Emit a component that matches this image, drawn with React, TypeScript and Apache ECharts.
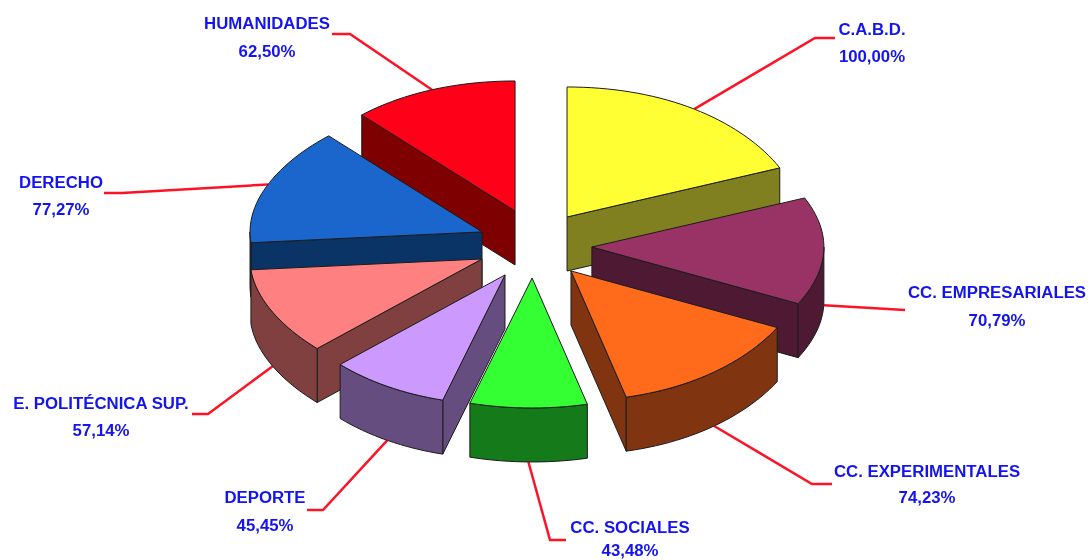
import React, { useEffect, useRef } from "react";
import * as echarts from "echarts";

const categories = ["C.A.B.D.", "CC. EMPRESARIALES", "CC. EXPERIMENTALES", "CC. SOCIALES", "DEPORTE", "E. POLITÉCNICA SUP.", "DERECHO", "HUMANIDADES"];
const values = [100.0, 70.79, 74.23, 43.48, 45.45, 57.14, 77.27, 62.5];

const topColors = ["#FFFF33", "#993366", "#FF6B1A", "#33FF33", "#CC99FF", "#FF8080", "#1A66CC", "#FF0019"];
const sideColors = ["#808020", "#4D1933", "#803510", "#147A1A", "#664D80", "#804040", "#0A3366", "#7F0000"];
const drawOrder = [7, 0, 6, 1, 5, 2, 4, 3];

// Pie projection (an ellipse extruded downwards) and per-slice explosion.
const CX = 533, CY = 246, RX = 232, RY = 130, DEPTH = 54, FLATTEN = 0.02;
const explodeX = [0.263, 0.254, 0.26, 0.25, 0.234, 0.241, 0.236, 0.214];
const explodeY = [0.269, 0.25, 0.247, 0.246, 0.26, 0.244, 0.297, 0.289];

// Leader-line elbows and label placement.
const elbows = [[[815, 38], [835, 38]], [[905, 310]], [[812, 484], [832, 484]], [[550, 540], [566, 540]], [[323, 510], [307, 510]], [[208, 414], [192, 414]], [[122, 193], [104, 193]], [[350, 34], [332, 34]]];
const labelPos = [[872, 29, 56], [997, 292, 320], [927, 471, 497], [630, 527, 550], [265, 497, 525], [101, 403, 430], [61, 182, 209], [267, 23, 51]];

const total = values.reduce((a, b) => a + b, 0);
const D2R = Math.PI / 180;
const spans = values.map((_, i) => {
  const before = values.slice(0, i).reduce((a, b) => a + b, 0);
  return [(before / total) * 360, ((before + values[i]) / total) * 360];
});
const apex = (i: number) => {
  const mid = ((spans[i][0] + spans[i][1]) / 2) * D2R;
  return [CX + explodeX[i] * RX * Math.sin(mid), CY - explodeY[i] * RY * Math.cos(mid)];
};
const rim = (i: number, deg: number, drop = 0) => {
  const [ax, ay] = apex(i);
  const t = deg * D2R;
  const flat = 1 - FLATTEN * Math.sin(2 * t) ** 2;
  return [ax + RX * Math.sin(t) * flat, ay - RY * Math.cos(t) + drop];
};
const arcPoints = (i: number, a: number, b: number, drop = 0) => {
  const n = Math.max(1, Math.ceil(Math.abs(b - a) / 2));
  const out: number[][] = [];
  for (let k = 0; k <= n; k++) out.push(rim(i, a + ((b - a) * k) / n, drop));
  return out;
};
const EDGE = "#1c1c1c";
const poly = (points: number[][], fill: string) => ({
  type: "polygon",
  shape: { points },
  style: { fill, stroke: EDGE, lineWidth: 1, lineJoin: "round" },
});

const renderSlice = (params: any) => {
  const i = drawOrder[params.dataIndex];
  const [a, b] = spans[i];
  const [ax, ay] = apex(i);
  const children: any[] = [];
  const radial = (deg: number) => {
    const p = rim(i, deg);
    children.push(poly([[ax, ay], p, [p[0], p[1] + DEPTH], [ax, ay + DEPTH]], sideColors[i]));
  };
  if (Math.sin(a * D2R) < -1e-6) radial(a);
  if (Math.sin(b * D2R) > 1e-6) radial(b);
  const fa = Math.max(a, 90), fb = Math.min(b, 270);
  if (fb > fa) {
    children.push(poly([...arcPoints(i, fa, fb), ...arcPoints(i, fb, fa, DEPTH)], sideColors[i]));
  }
  children.push(poly([[ax, ay], ...arcPoints(i, a, b)], topColors[i]));
  return { type: "group", children };
};

const renderLeader = (params: any) => {
  const i = params.dataIndex;
  const mid = (spans[i][0] + spans[i][1]) / 2;
  const drop = Math.cos(mid * D2R) < 0 ? DEPTH : 0;
  const start = rim(i, mid, drop);
  const [x, y1, y2] = labelPos[i];
  const text = (t: string, y: number) => ({
    type: "text",
    x,
    y,
    style: { text: t, fill: "#1414F0", font: 'bold 16.8px "Liberation Sans", Arial, sans-serif', align: "center", verticalAlign: "middle" },
  });
  return {
    type: "group",
    children: [
      { type: "polyline", shape: { points: [start, ...elbows[i]] }, style: { fill: "none", stroke: "#FF1226", lineWidth: 2.5 } },
      text(categories[i], y1),
      text(values[i].toFixed(2).replace(".", ",") + "%", y2),
    ],
  };
};

export default function App() {
  const ref = useRef<HTMLDivElement>(null);
  useEffect(() => {
    const chart = echarts.init(ref.current!, null, { renderer: "svg" });
    chart.setOption({
      animation: false,
      backgroundColor: "#fff",
      series: [
        { type: "custom", coordinateSystem: "none", z: 1, silent: true, data: categories.map((_, i) => i), renderItem: renderLeader },
        { type: "custom", coordinateSystem: "none", z: 2, silent: true, data: drawOrder.map((i) => values[i]), renderItem: renderSlice },
      ],
    });
    return () => chart.dispose();
  }, []);
  return <div ref={ref} style={{ position: "fixed", left: 0, top: 0, width: 1090, height: 560, filter: "blur(0.7px)" }} />;
}
